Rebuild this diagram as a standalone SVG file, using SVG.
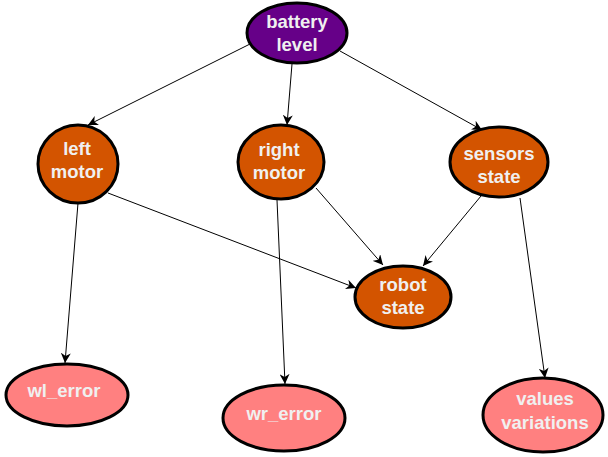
<svg xmlns="http://www.w3.org/2000/svg" width="608" height="457" viewBox="0 0 608 457">
<style>
.n{stroke:#000;stroke-width:3}
.p{fill:#660088}
.o{fill:#d35400}
.k{fill:#ff8080}
text{font-family:"Liberation Sans",Arial,sans-serif;font-weight:bold;font-size:18.5px;fill:#f0f0f0;text-anchor:middle}
.e{stroke:#000;stroke-width:1;fill:none;marker-end:url(#a)}
</style>
<defs>
<marker id="a" viewBox="0 0 10 10" refX="10" refY="5" markerWidth="10" markerHeight="10" markerUnits="userSpaceOnUse" orient="auto">
<path d="M0,0 L10,5 L0,10 L3,5 z" fill="#000"/>
</marker>
</defs>
<rect width="608" height="457" fill="#fff"/>
<g id="edges">
<line class="e" x1="250" y1="44" x2="88" y2="125"/>
<line class="e" x1="292" y1="64" x2="287" y2="125"/>
<line class="e" x1="340" y1="51" x2="482" y2="130"/>
<line class="e" x1="108" y1="193" x2="356" y2="288"/>
<line class="e" x1="78" y1="203" x2="65" y2="363"/>
<line class="e" x1="316" y1="188" x2="383" y2="265"/>
<line class="e" x1="277" y1="200" x2="285" y2="384"/>
<line class="e" x1="481" y1="196" x2="423" y2="266"/>
<line class="e" x1="520" y1="198" x2="545" y2="378"/>
</g>
<g id="battery">
<ellipse class="n p" cx="297" cy="33" rx="50" ry="30"/>
<text x="297" y="28">battery</text><text x="297" y="51">level</text>
</g>
<g id="left_motor">
<ellipse class="n o" cx="78" cy="164" rx="40" ry="39"/>
<text x="77" y="155">left</text><text x="77" y="178">motor</text>
</g>
<g id="right_motor">
<ellipse class="n o" cx="281" cy="162" rx="43" ry="37"/>
<text x="279" y="156">right</text><text x="279" y="179">motor</text>
</g>
<g id="sensors_state">
<ellipse class="n o" cx="499" cy="162" rx="49" ry="35"/>
<text x="499" y="160">sensors</text><text x="499" y="183">state</text>
</g>
<g id="robot_state">
<ellipse class="n o" cx="403" cy="297" rx="48" ry="31"/>
<text x="403" y="291">robot</text><text x="403" y="314">state</text>
</g>
<g id="wl_error">
<ellipse class="n k" cx="67" cy="395" rx="61" ry="31"/>
<text x="64" y="397">wl_error</text>
</g>
<g id="wr_error">
<ellipse class="n k" cx="284" cy="418" rx="61" ry="33"/>
<text x="284" y="420">wr_error</text>
</g>
<g id="values_variations">
<ellipse class="n k" cx="543" cy="415" rx="60" ry="37"/>
<text x="545" y="405">values</text><text x="545" y="429">variations</text>
</g>
</svg>
